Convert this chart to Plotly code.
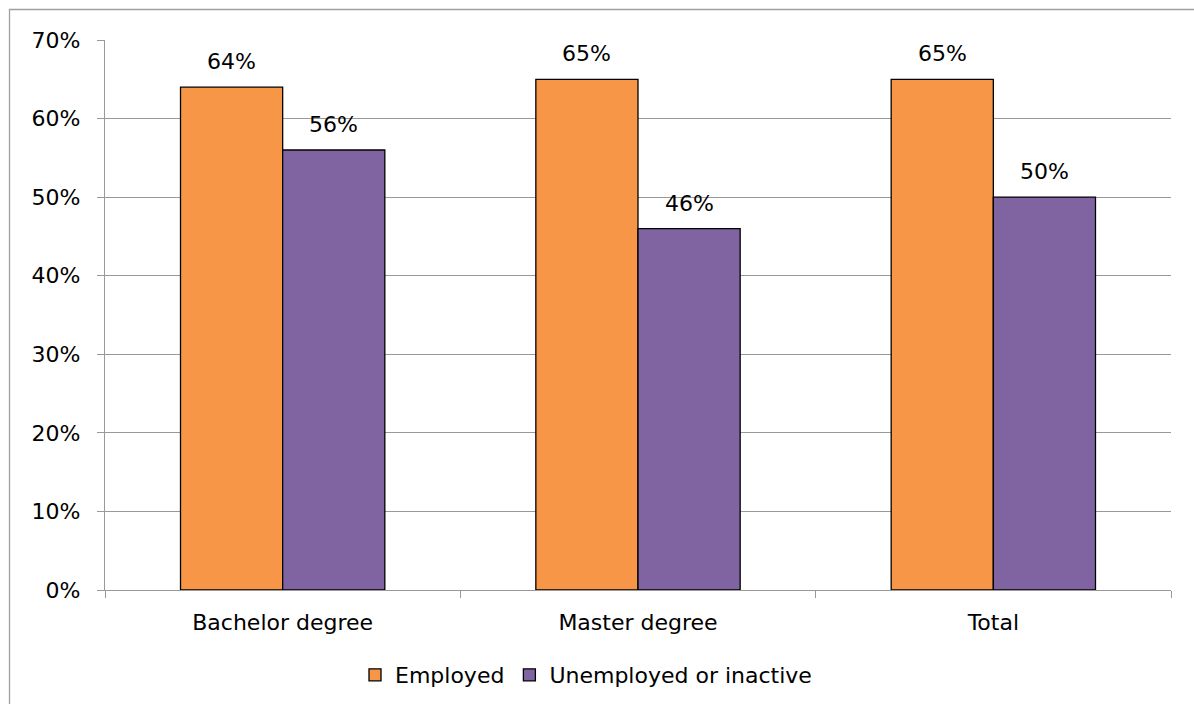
import plotly.graph_objects as go

categories = ["Bachelor degree", "Master degree", "Total"]
series_names = ["Employed", "Unemployed or inactive"]
employed = [64, 65, 65]
unemployed = [56, 46, 50]
y_ticks = [0, 10, 20, 30, 40, 50, 60, 70]
y_tick_labels = ["0%", "10%", "20%", "30%", "40%", "50%", "60%", "70%"]

colors = ["#F79646", "#8064A2"]
FONT = "DejaVu Sans, Verdana, sans-serif"
W, H = 1194, 704
L, R, T, B = 105, 23, 40, 114
pw, ph = W - L - R, H - T - B

fig = go.Figure()
for name, vals, col in zip(series_names, [employed, unemployed], colors):
    fig.add_trace(go.Bar(
        x=categories, y=vals, name=name,
        marker=dict(color=col, line=dict(color="#000000", width=1.3)),
    ))

bargap = 0.425
bw = (1 - bargap) / 2
for i, vals in enumerate([employed, unemployed]):
    off = (i - 0.5) * bw
    for j, v in enumerate(vals):
        fig.add_annotation(
            x=j + off, y=v, xref="x", yref="y",
            text=f"{v}%", showarrow=False, yanchor="bottom",
            yshift=11, font=dict(family=FONT, size=22, color="#000000"),
        )


def px_x(p):
    return (p - L) / pw


def px_y(p):
    return (H - B - p) / ph


# outer chart border (top and left visible)
fig.add_shape(type="rect", xref="paper", yref="paper",
              x0=px_x(9.5), x1=px_x(1210), y0=px_y(720), y1=px_y(9.5),
              line=dict(color="#A0A0A0", width=1.3), fillcolor="rgba(0,0,0,0)", layer="below")

fig.update_layout(
    width=W, height=H,
    margin=dict(l=L, r=R, t=T, b=B, autoexpand=False),
    paper_bgcolor="white", plot_bgcolor="white",
    barmode="group", bargap=bargap, bargroupgap=0,
    font=dict(family=FONT, size=22, color="#000000"),
    showlegend=True,
    legend=dict(orientation="h", x=px_x(586), xanchor="center", y=px_y(675), yanchor="middle",
                font=dict(family=FONT, size=22, color="#000000"),
                bgcolor="rgba(0,0,0,0)", itemwidth=30, tracegroupgap=0),
    xaxis=dict(
        showgrid=False, showline=True, linecolor="#999999", linewidth=1.3,
        ticks="outside", tickson="boundaries", ticklen=7, tickcolor="#999999", tickwidth=1.3,
        tickfont=dict(family=FONT, size=22, color="#000000"),
        ticklabelstandoff=12, automargin=False,
    ),
    yaxis=dict(
        range=[0, 70], tickvals=y_ticks, ticktext=y_tick_labels,
        showgrid=True, gridcolor="#999999", gridwidth=1.3,
        showline=True, linecolor="#999999", linewidth=1.3,
        ticks="outside", ticklen=7, tickcolor="#999999", tickwidth=1.3,
        tickfont=dict(family=FONT, size=22, color="#000000"),
        ticklabelstandoff=12, zeroline=False, automargin=False,
    ),
)

fig.write_html("out.html",
               config={"displayModeBar": False},
               post_script="document.body.style.margin='0';document.body.style.padding='0';document.body.style.overflow='hidden';")
